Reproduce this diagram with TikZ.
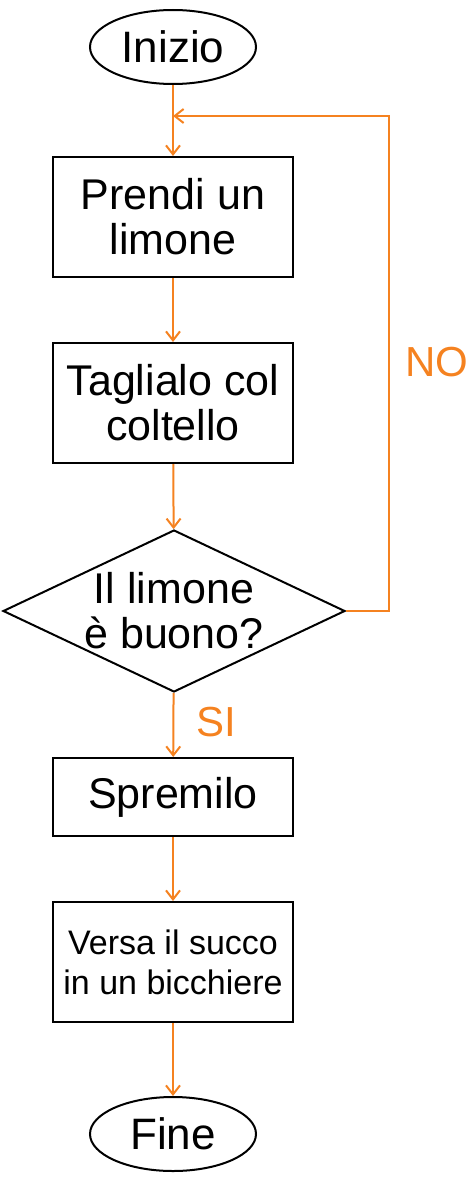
\documentclass[tikz,border=0pt]{standalone}
\usepackage{fontspec}
\setmainfont{Liberation Sans}
\usetikzlibrary{arrows.meta}
\usetikzlibrary{positioning}
\usetikzlibrary{shapes}
\definecolor{lemonOrange}{HTML}{F58220}

\tikzset{
  task/.style={draw, line width=2pt, minimum width=240pt, align=center,
    font=\fontsize{43}{45}\selectfont},
  term/.style={draw, ellipse, line width=2pt, minimum width=166pt,
    minimum height=74pt, inner sep=0pt, font=\fontsize{44}{46}\selectfont},
  flow/.style={draw=lemonOrange, line width=2pt,
    -{Straight Barb[length=9pt,width=14pt,line width=2pt]}},
  answer/.style={text=lemonOrange, font=\fontsize{42}{44}\selectfont}
}

\begin{document}
\begin{tikzpicture}[x=1pt,y=-1pt]
  \useasboundingbox (0,0) rectangle (469,1180);
  %% terminals and steps
  \node[term] (start) at (173,47) {Inizio};
  \node[task, minimum height=120pt] (take) at (173,217) {Prendi un\\limone};
  \node[task, minimum height=120pt] (cut) at (173,403) {Taglialo col\\coltello};
  \node[draw, diamond, line width=2pt, minimum width=342pt, minimum height=162pt,
    inner sep=0pt, align=center, font=\fontsize{43}{45}\selectfont,
    aspect=2.1] (check) at (174,611) {Il limone\\è buono?};
  \node[task, minimum height=78pt] (squeeze) at (173,797) {Spremilo};
  \node[task, minimum height=120pt, font=\fontsize{34}{40}\selectfont]
    (pour) at (173,962) {Versa il succo\\in un bicchiere};
  \node[term] (stop) at (173,1134) {Fine};

  % loop back
  \coordinate (join) at (173,116);
  \coordinate (corner) at (389,116);

  %% connectors
  \draw[flow] (start) -- (take);
  \draw[flow] (take) -- (cut);
  \draw[flow] (cut) -- (check);
  \draw[flow] (check) -- (squeeze);
  \draw[flow] (squeeze) -- (pour);
  \draw[flow] (pour) -- (stop);
  \draw[flow] (check.east) -| (corner) -- (join);
  \node[answer] (yes) at (216,722) {SI};
  \node[answer] (no) at (437,362) {NO};
\end{tikzpicture}
\end{document}
